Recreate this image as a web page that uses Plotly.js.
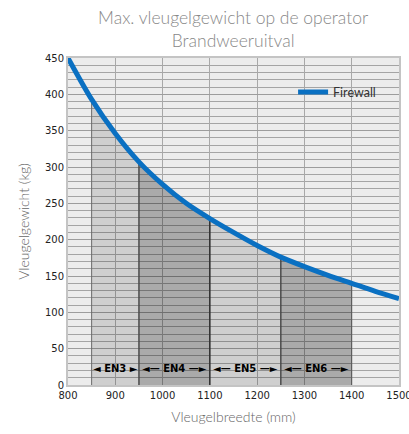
<!DOCTYPE html>
<html>
<head>
<meta charset="utf-8">
<script src="https://cdn.plot.ly/plotly-3.0.1.min.js"></script>
<style>html,body{margin:0;padding:0;background:#fff;}#chart{width:409px;height:434px;}</style>
</head>
<body>
<div id="chart"></div>
<script>
// Data
var widths  = [800, 850, 900, 950, 1000, 1050, 1100, 1150, 1200, 1250, 1300, 1350, 1400, 1450, 1500];
var weights = [450, 393, 346, 307, 276, 250, 229, 210, 192, 176, 163, 151, 140, 129, 119];
var zoneNames  = ['EN3', 'EN4', 'EN5', 'EN6'];
var zoneStarts = [850, 950, 1100, 1250];
var zoneEnds   = [950, 1100, 1250, 1400];
var zoneLabels = ['\u25C4 EN3 \u25BA', '\u25C4\u2014 EN4 \u2014\u25BA', '\u25C4\u2014 EN5 \u2014\u25BA', '\u25C4\u2014 EN6 \u2014\u25BA'];
var seriesName = 'Firewall';

var zoneFills = ['rgba(0,0,0,0.12)', 'rgba(0,0,0,0.28)', 'rgba(0,0,0,0.12)', 'rgba(0,0,0,0.28)'];
var zoneEdges = ['#6a6a6a', '#444444', '#222222', '#555555'];

var traces = [];
zoneNames.forEach(function (nm, k) {
  var xs = [zoneStarts[k]], ys = [0];
  widths.forEach(function (w, i) {
    if (w >= zoneStarts[k] && w <= zoneEnds[k]) { xs.push(w); ys.push(weights[i]); }
  });
  xs.push(zoneEnds[k]); ys.push(0);
  traces.push({
    x: xs, y: ys, type: 'scatter', mode: 'lines', fill: 'toself',
    fillcolor: zoneFills[k], line: {color: zoneEdges[k], width: 1},
    showlegend: false, hoverinfo: 'skip', name: nm
  });
});
traces.push({
  x: widths, y: weights, type: 'scatter', mode: 'lines', name: seriesName,
  line: {color: '#0a70c2', width: 5, shape: 'spline', smoothing: 0.8}
});

var annotations = zoneNames.map(function (nm, k) {
  return {
    x: (zoneStarts[k] + zoneEnds[k]) / 2, y: 23, xref: 'x', yref: 'y',
    text: '<b>' + zoneLabels[k] + '</b>', showarrow: false,
    font: {family: 'DejaVu Sans', size: 10, color: '#000'}
  };
});

var layout = {
  width: 409, height: 434,
  margin: {l: 68, r: 10, t: 58, b: 49},
  paper_bgcolor: '#ffffff', plot_bgcolor: '#ececec',
  title: {
    text: 'Max. vleugelgewicht op de operator<br>Brandweeruitval',
    font: {family: 'Lato', size: 17.5, color: '#888888', weight: 300},
    x: 0.57, xanchor: 'center', y: 0.945, yanchor: 'bottom', automargin: false
  },
  xaxis: {
    range: [800, 1500], dtick: 100, tick0: 800,
    showgrid: true, gridcolor: '#a8a8a8', gridwidth: 1,
    zeroline: false, showline: true, linecolor: '#c4c4c4', linewidth: 2, mirror: true,
    ticks: '', ticklabeloverflow: 'allow',
    tickfont: {family: 'DejaVu Sans', size: 10, color: '#222'},
    title: {text: 'Vleugelbreedte (mm)', font: {family: 'Lato', size: 14, color: '#666', weight: 300}, standoff: 12}
  },
  yaxis: {
    range: [0, 450], dtick: 50, tick0: 0,
    showgrid: true, gridcolor: '#9c9c9c', gridwidth: 1,
    minor: {dtick: 10, showgrid: true, gridcolor: '#a4a4a4', gridwidth: 1},
    zeroline: false, showline: true, linecolor: '#c4c4c4', linewidth: 2, mirror: true,
    ticks: '', tickfont: {family: 'DejaVu Sans', size: 10, color: '#222'},
    title: {text: 'Vleugelgewicht (kg)', font: {family: 'Lato', size: 14, color: '#666', weight: 300}, standoff: 12}
  },
  legend: {
    x: 0.68, y: 0.895, xanchor: 'left', yanchor: 'middle',
    bgcolor: 'rgba(0,0,0,0)', borderwidth: 0,
    font: {family: 'Lato', size: 12.5, color: '#333'}, itemwidth: 30
  },
  annotations: annotations,
  showlegend: true
};

Plotly.newPlot('chart', traces, layout, {displayModeBar: false, staticPlot: true});
</script>
</body>
</html>
